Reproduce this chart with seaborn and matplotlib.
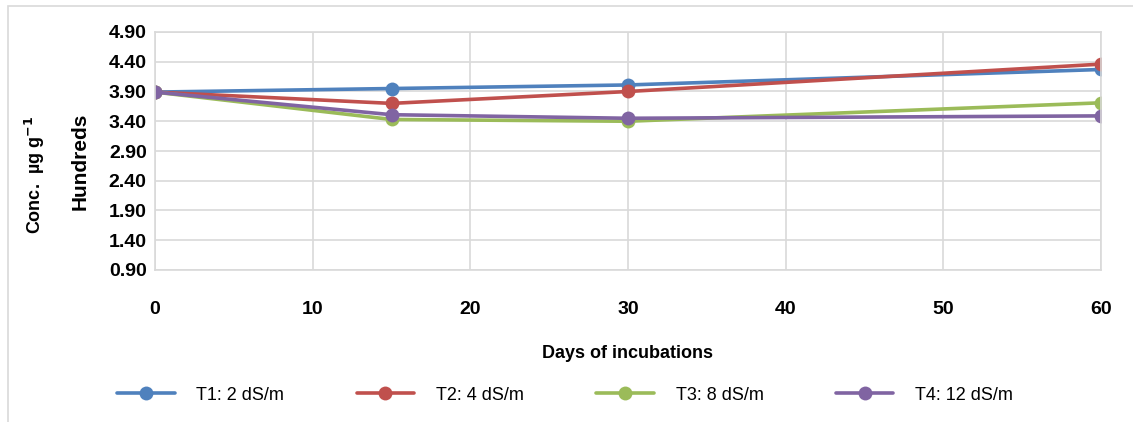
import matplotlib
matplotlib.use("Agg")
import matplotlib.pyplot as plt
import pandas as pd
import seaborn as sns
from matplotlib.patches import Rectangle

# Days of incubation and concentration (hundreds of ug/g)
days = [0, 15, 30, 60]
t1_values = [3.89, 3.95, 4.01, 4.27]
t2_values = [3.89, 3.70, 3.90, 4.36]
t3_values = [3.89, 3.43, 3.40, 3.71]
t4_values = [3.89, 3.51, 3.45, 3.49]
series_names = ["T1: 2 dS/m", "T2: 4 dS/m", "T3: 8 dS/m", "T4: 12 dS/m"]
colors = ["#4F81BD", "#C0504D", "#9BBB59", "#8064A2"]
y_ticks = [0.90, 1.40, 1.90, 2.40, 2.90, 3.40, 3.90, 4.40, 4.90]
x_ticks = [0, 10, 20, 30, 40, 50, 60]

sns.set_theme(style="white")
plt.rcParams["font.family"] = ["Liberation Sans Narrow", "Liberation Sans", "DejaVu Sans"]
plt.rcParams["text.color"] = "black"
plt.rcParams["xtick.color"] = "black"
plt.rcParams["ytick.color"] = "black"
plt.rcParams["axes.labelcolor"] = "black"

rows = []
for name, vals in zip(series_names, [t1_values, t2_values, t3_values, t4_values]):
    for d, v in zip(days, vals):
        rows.append({"day": d, "conc": v, "series": name})
df = pd.DataFrame(rows)

fig = plt.figure(figsize=(11.33, 4.22), dpi=100)
ax = fig.add_axes([155 / 1133, 1 - 270 / 422, 946 / 1133, 238 / 422])

# outer chart border (partially visible in the reference)
fig.patches.append(Rectangle((8 / 1133, -0.05), 1.2, 1 - 6 / 422 + 0.05,
                             transform=fig.transFigure, fill=False,
                             edgecolor="#D9D9D9", linewidth=1.2))

sns.lineplot(data=df, x="day", y="conc", hue="series", palette=colors,
             hue_order=series_names, marker="o", markersize=10,
             markeredgewidth=0, linewidth=2.6, ax=ax, legend=False)

ax.set_xlim(0, 60)
ax.set_ylim(0.90, 4.90)
ax.set_xticks(x_ticks)
ax.set_yticks(y_ticks)
ax.set_yticklabels([f"{t:.2f}" for t in y_ticks], fontsize=14, fontweight="bold")
ax.set_xticklabels([str(t) for t in x_ticks], fontsize=14, fontweight="bold")
ax.tick_params(axis="x", length=0, pad=22)
ax.tick_params(axis="y", length=0, pad=6)
ax.grid(True, color="#D9D9D9", linewidth=1.2)
for spine in ax.spines.values():
    spine.set_color("#D9D9D9")
    spine.set_linewidth(1.2)

ax.set_xlabel("Days of incubations", fontsize=13, fontweight="bold", labelpad=20)
ax.set_ylabel("")

fig.text(80 / 1133, 1 - 161 / 422, "Hundreds", rotation=90, fontsize=15,
         fontweight="bold", ha="center", va="center")
fig.text(35 / 1133, 1 - 175 / 422, r"Conc.  µg g$^{\mathbf{-1}}$", rotation=90,
         fontsize=13, fontweight="bold", ha="center", va="center")

handles = [plt.Line2D([], [], color=c, marker="o", markersize=10,
                      markeredgewidth=0, linewidth=2.6) for c in colors]
fig.legend(handles, series_names, loc="center", ncol=4, frameon=False,
           bbox_to_anchor=(565 / 1133, 1 - 395 / 422), fontsize=13,
           handlelength=3.2, handletextpad=1.2, columnspacing=4.0)

fig.savefig("out.png", dpi=100)
